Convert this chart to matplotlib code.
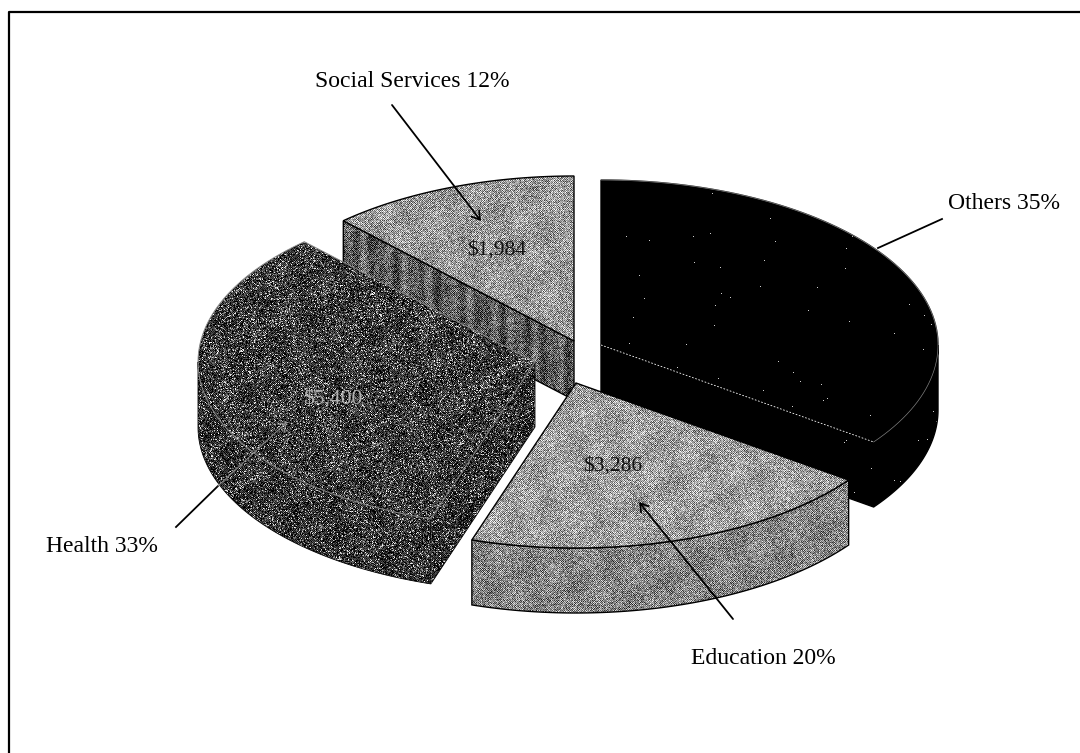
import numpy as np
import matplotlib
matplotlib.use('Agg')
import matplotlib.pyplot as plt
from matplotlib.patches import Polygon

# values
categories = ['Others', 'Education', 'Health', 'Social Services']
shares = [35, 20, 33, 12]
value_labels = ['', '$3,286', '$5,400', '$1,984']

# layout, in pixels of the 1080x753 picture
W, H = 1080, 753
RX, RY, DEPTH = 337, 165, 65
apex = [(601, 345), (576, 383), (535, 362), (574, 341)]
cut_depth = [65, 65, 65, 59]
value_pos = [None, (613, 466), (333, 399), (497, 250)]
label_pos = [(1004, 203), (763, 658), (102, 546), (412, 81)]
leader_from = [(942, 219), (733, 619), (176, 527), (392, 105)]
leader_to = [(878, 248), (639, 502), (218, 486), (481, 221)]
has_arrow = [False, True, False, True]

# grey level of top, outer wall and cut face for each slice
top_grey = [0.0, 0.62, 0.22, 0.60]
wall_grey = [0.0, 0.52, 0.20, 0.40]
cut_grey = [0.0, 0.52, 0.18, 0.36]
contrast = [0.0, 0.8, 0.8, 0.8]
rim_colour = ['black', 'black', '#8a8a8a', 'black']

plt.rcParams['font.family'] = ['Liberation Serif', 'DejaVu Serif']

fig = plt.figure(figsize=(W / 100, H / 100), dpi=100)
ax = fig.add_axes([0, 0, 1, 1])
ax.set_xlim(0, W)
ax.set_ylim(H, 0)
ax.axis('off')

yy, xx = np.mgrid[0:H, 0:W]
n = xx.astype(np.int64) * 57 + yy.astype(np.int64) * 131
n = (n << 13) ^ n
grain = ((n * (n * n * 15731 + 789221) + 1376312589) & 0x7fffffff) / 2147483648.0
checker = ((xx + yy) % 2).astype(float)
mottle = np.sin(xx / 9.0 + yy / 23.0) * np.cos(yy / 11.0 - xx / 31.0)


# halftone look like the scanned page
def halftone(grey, amount, stripes=False):
    if amount == 0:
        return (grain > 0.999).astype(float) * 0.8
    noise = 0.6 * (grain - 0.5) + 0.4 * (checker - 0.5)
    if grey < 0.3:
        # dark slices: black ground with light specks
        noise = (grain - 0.5) ** 3 * 8 + 0.2 * (checker - 0.5)
    tone = grey + 0.05 * mottle + amount * noise
    if stripes:
        tone = tone + 0.14 * np.sin(xx / 2.6) * np.sin(xx / 11.0)
    return np.clip(tone, 0, 1)


def fill(xs, ys, grey, amount, stripes=False, zorder=1, edge='black', lw=1.0):
    poly = Polygon(np.column_stack([xs, ys]), closed=True, facecolor='none',
                   edgecolor=edge, linewidth=lw, zorder=zorder + 0.1)
    ax.add_patch(poly)
    img = ax.imshow(halftone(grey, amount, stripes), cmap='gray', vmin=0, vmax=1,
                    extent=(0, W, H, 0), interpolation='none', aspect='auto',
                    zorder=zorder)
    img.set_clip_path(poly)


def arc(cx, cy, t1, t2, n=80):
    t = np.radians(np.linspace(t1, t2, n))
    return cx + RX * np.sin(t), cy - RY * np.cos(t)


ends = np.cumsum(shares) * 3.6
starts = ends - np.array(shares) * 3.6
# same stacking as the picture: back slices first
for z, i in enumerate([3, 0, 2, 1]):
    cx, cy = apex[i]
    t1, t2 = starts[i], ends[i]
    base = 2 + z * 4
    stripes = categories[i] == 'Social Services'
    side_lw = 0.6 if categories[i] == 'Health' else 1.0

    # cut faces that look towards the reader
    for t, seen in ((t1, np.sin(np.radians(t1)) < -1e-6),
                    (t2, np.sin(np.radians(t2)) > 1e-6)):
        if seen:
            ex, ey = arc(cx, cy, t, t, 1)
            d = cut_depth[i]
            fill([cx, ex[0], ex[0], cx], [cy, ey[0], ey[0] + d, cy + d],
                 cut_grey[i], contrast[i], stripes, base, lw=side_lw)

    # outer wall, only the front half of the rim shows
    a1, a2 = max(t1, 90), min(t2, 270)
    if a1 < a2:
        wx, wy = arc(cx, cy, a1, a2)
        fill(np.r_[wx, wx[::-1]], np.r_[wy, wy[::-1] + DEPTH], wall_grey[i],
             contrast[i], False, base + 1, lw=side_lw)

    # top surface
    sx, sy = arc(cx, cy, t1, t2)
    fill(np.r_[cx, sx], np.r_[cy, sy], top_grey[i], contrast[i], False, base + 2,
         edge=rim_colour[i], lw=0.7 if rim_colour[i] != 'black' else 1.0)

    if categories[i] == 'Others':
        ax.plot(sx, sy, color='white', lw=0.5, alpha=0.5, zorder=base + 2.5)
        ex, ey = arc(cx, cy, t2, t2, 1)
        ax.plot([cx, ex[0]], [cy, ey[0]], color='white', lw=0.6, ls=(0, (2, 2)),
                zorder=base + 2.5)
    if categories[i] == 'Health':
        ex, ey = arc(cx, cy, t1, t1, 1)
        ax.plot([ex[0], ex[0]], [ey[0], ey[0] + DEPTH], color='white', lw=0.5,
                alpha=0.5, ls=(0, (1, 1)), zorder=base + 2.5)

    if value_labels[i]:
        ax.text(*value_pos[i], value_labels[i], fontsize=15.5, ha='center',
                va='center', zorder=30,
                color='#b0b0b0' if top_grey[i] < 0.4 else '#111111')

# leader lines and labels
for i, name in enumerate(categories):
    ax.text(*label_pos[i], f'{name} {shares[i]}%', fontsize=17, ha='center',
            va='center', color='black', zorder=30)
    if has_arrow[i]:
        ax.annotate('', xy=leader_to[i], xytext=leader_from[i], zorder=31,
                    arrowprops=dict(arrowstyle='->,head_length=0.55,head_width=0.35',
                                    color='black', lw=1.3, shrinkA=0, shrinkB=0))
    else:
        ax.plot(*zip(leader_from[i], leader_to[i]), color='black', lw=1.3, zorder=31)

# health leader goes on inside the dark slice in a light tone
ax.annotate('', xy=(287, 422), xytext=leader_to[2], zorder=31,
            arrowprops=dict(arrowstyle='->,head_length=0.55,head_width=0.35',
                            color='#8f8f8f', lw=0.7, shrinkA=0, shrinkB=0))

# page frame, open at right and bottom
ax.plot([9, 9, W], [H, 12, 12], color='black', lw=1.6, zorder=40, clip_on=False)

fig.savefig('out.png', dpi=100, facecolor='white')
